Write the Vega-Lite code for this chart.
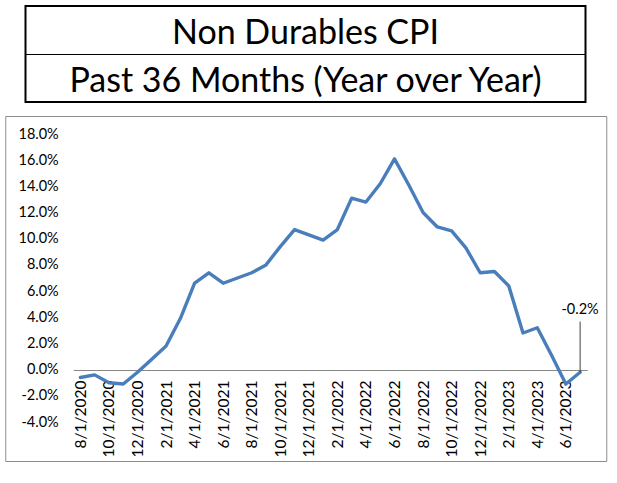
{
  "$schema": "https://vega.github.io/schema/vega-lite/v6.json",
  "background": "white",
  "padding": {"left": 4, "top": 5, "right": 12, "bottom": 23},
  "spacing": 12,
  "center": true,
  "config": {
    "locale": {"number": {"decimal": ".", "thousands": ",", "grouping": [3], "currency": ["$", ""], "minus": "-"}},
    "font": "Lato"
  },
  "datasets": {
    "cpi": [
      {"date": "8/1/2020", "value": -0.006},
      {"date": "9/1/2020", "value": -0.004},
      {"date": "10/1/2020", "value": -0.010},
      {"date": "11/1/2020", "value": -0.011},
      {"date": "12/1/2020", "value": -0.002},
      {"date": "1/1/2021", "value": 0.008},
      {"date": "2/1/2021", "value": 0.018},
      {"date": "3/1/2021", "value": 0.039},
      {"date": "4/1/2021", "value": 0.066},
      {"date": "5/1/2021", "value": 0.074},
      {"date": "6/1/2021", "value": 0.066},
      {"date": "7/1/2021", "value": 0.070},
      {"date": "8/1/2021", "value": 0.074},
      {"date": "9/1/2021", "value": 0.080},
      {"date": "10/1/2021", "value": 0.094},
      {"date": "11/1/2021", "value": 0.107},
      {"date": "12/1/2021", "value": 0.103},
      {"date": "1/1/2022", "value": 0.099},
      {"date": "2/1/2022", "value": 0.107},
      {"date": "3/1/2022", "value": 0.131},
      {"date": "4/1/2022", "value": 0.128},
      {"date": "5/1/2022", "value": 0.142},
      {"date": "6/1/2022", "value": 0.161},
      {"date": "7/1/2022", "value": 0.141},
      {"date": "8/1/2022", "value": 0.120},
      {"date": "9/1/2022", "value": 0.109},
      {"date": "10/1/2022", "value": 0.106},
      {"date": "11/1/2022", "value": 0.093},
      {"date": "12/1/2022", "value": 0.074},
      {"date": "1/1/2023", "value": 0.075},
      {"date": "2/1/2023", "value": 0.064},
      {"date": "3/1/2023", "value": 0.028},
      {"date": "4/1/2023", "value": 0.032},
      {"date": "5/1/2023", "value": 0.011},
      {"date": "6/1/2023", "value": -0.011},
      {"date": "7/1/2023", "value": -0.002}
    ],
    "titles": [
      {"row": "a", "line": "Non Durables CPI"},
      {"row": "b", "line": "Past 36 Months (Year over Year)"}
    ]
  },
  "vconcat": [
    {
      "width": 560,
      "height": 96,
      "view": {"stroke": "black", "strokeWidth": 2},
      "data": {"name": "titles"},
      "mark": {"type": "text", "font": "Lato", "fontSize": 34, "color": "black", "baseline": "alphabetic", "dy": 14, "align": "center"},
      "encoding": {
        "y": {"field": "row", "type": "nominal", "scale": {"type": "band", "paddingInner": 0, "paddingOuter": 0},
              "axis": {"labels": false, "ticks": false, "domain": false, "title": null, "grid": true, "bandPosition": 0, "gridColor": "black", "gridWidth": 1.2, "gridOpacity": 1}},
        "text": {"field": "line", "type": "nominal"}
      }
    },
    {
      "width": 601,
      "height": 345,
      "view": {"stroke": "#8c8c8c", "strokeWidth": 1},
      "data": {"name": "cpi"},
      "encoding": {
        "x": {"field": "date", "type": "ordinal", "sort": null,
              "scale": {"type": "point", "range": [68, 582], "padding": 0.5,
                        "domain": ["8/1/2020", "9/1/2020", "10/1/2020", "11/1/2020", "12/1/2020", "1/1/2021", "2/1/2021", "3/1/2021", "4/1/2021", "5/1/2021", "6/1/2021", "7/1/2021", "8/1/2021", "9/1/2021", "10/1/2021", "11/1/2021", "12/1/2021", "1/1/2022", "2/1/2022", "3/1/2022", "4/1/2022", "5/1/2022", "6/1/2022", "7/1/2022", "8/1/2022", "9/1/2022", "10/1/2022", "11/1/2022", "12/1/2022", "1/1/2023", "2/1/2023", "3/1/2023", "4/1/2023", "5/1/2023", "6/1/2023", "7/1/2023"]},
              "axis": {"orient": "bottom", "offset": -91, "title": null, "ticks": false, "grid": false,
                       "domainColor": "#868686", "domainWidth": 1,
                       "values": ["8/1/2020", "10/1/2020", "12/1/2020", "2/1/2021", "4/1/2021", "6/1/2021", "8/1/2021", "10/1/2021", "12/1/2021", "2/1/2022", "4/1/2022", "6/1/2022", "8/1/2022", "10/1/2022", "12/1/2022", "2/1/2023", "4/1/2023", "6/1/2023"],
                       "labelAngle": 270, "labelAlign": "right", "labelBaseline": "middle", "labelPadding": 10,
                       "labelFont": "Lato", "labelFontSize": 15.5, "labelColor": "black", "labelOverlap": false}},
        "y": {"field": "value", "type": "quantitative",
              "scale": {"domain": [-0.04, 0.18], "range": [306, 18], "nice": false, "zero": false},
              "axis": {"orient": "left", "offset": -56, "title": null, "ticks": false, "grid": false, "domain": false,
                       "values": [-0.04, -0.02, 0, 0.02, 0.04, 0.06, 0.08, 0.10, 0.12, 0.14, 0.16, 0.18],
                       "format": ".1%", "labelPadding": 3, "labelFont": "Lato", "labelFontSize": 14.5, "labelColor": "black"}}
      },
      "layer": [
        {"mark": {"type": "line", "color": "#4a7ebb", "strokeWidth": 3.4, "strokeJoin": "round", "strokeCap": "round"}},
        {"transform": [{"filter": "datum.date === '7/1/2023'"}],
         "mark": {"type": "rule", "color": "#404040", "strokeWidth": 1},
         "encoding": {
           "y2": {"datum": 0.0367}
         }},
        {"transform": [{"filter": "datum.date === '7/1/2023'"}],
         "mark": {"type": "text", "dy": -62, "baseline": "middle", "align": "center", "font": "Lato", "fontSize": 14.5, "color": "black"},
         "encoding": {
           "text": {"field": "value", "type": "quantitative", "format": ".1%"}
         }}
      ]
    }
  ]
}
